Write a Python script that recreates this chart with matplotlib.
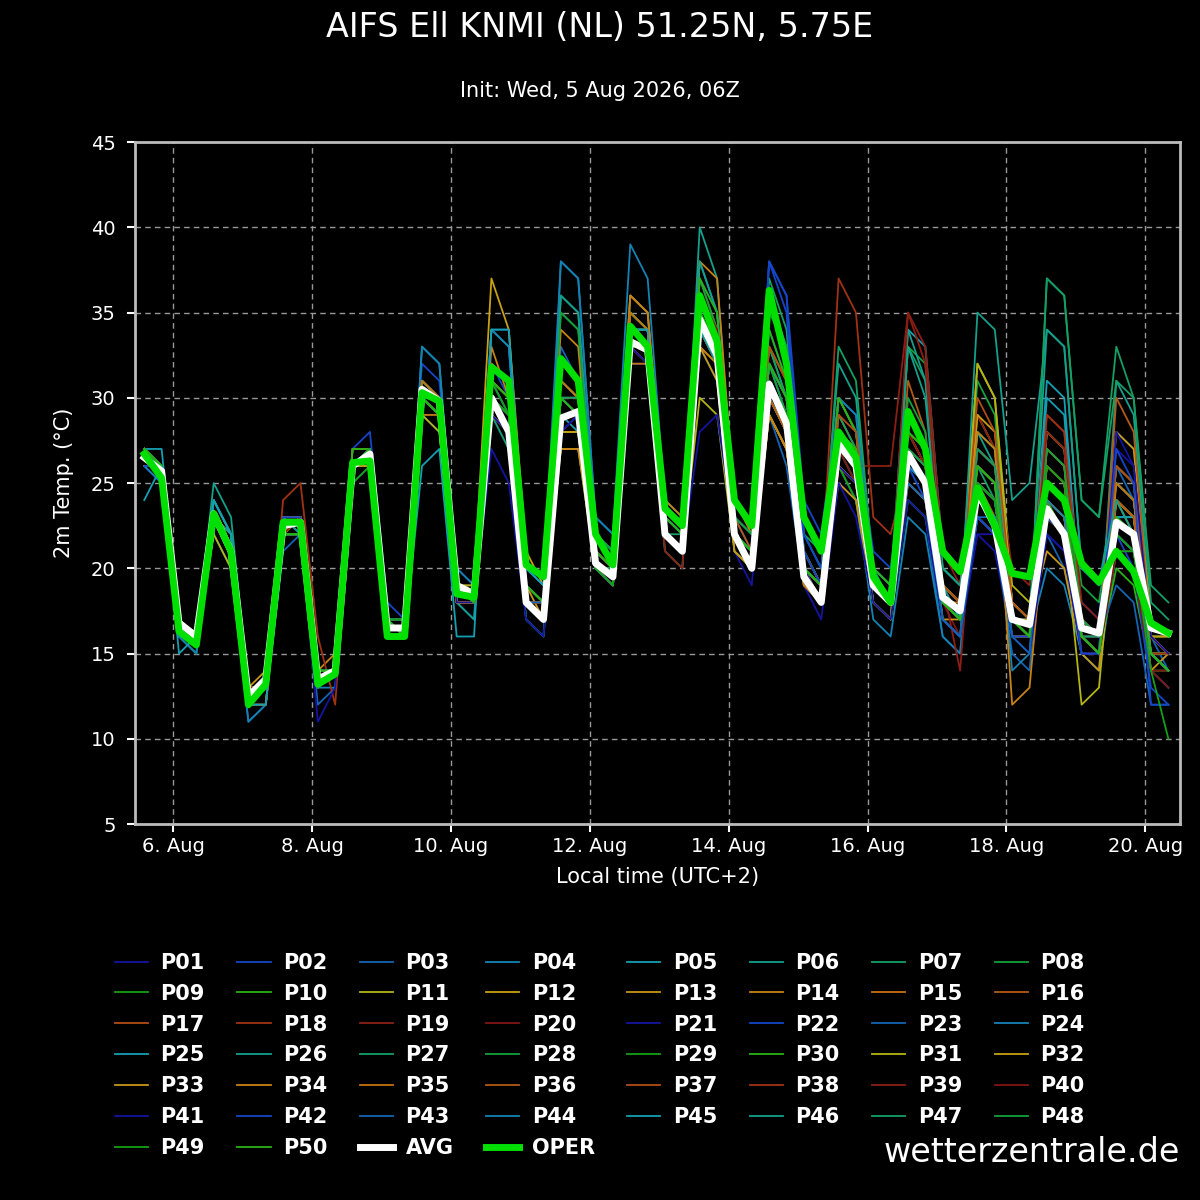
import numpy as np
import matplotlib
matplotlib.use("Agg")
import matplotlib.pyplot as plt
from matplotlib.lines import Line2D

# 6-hourly steps starting 5 Aug 14:00 local, days as fractional day-of-month
times = 5 + 14 / 24 + np.arange(60) * 0.25

avg = [26.5, 25.7, 16.8, 16.0, 23.2, 21.0, 12.5, 13.5, 22.5, 22.7, 13.5, 14.0,
       26.0, 26.7, 16.5, 16.5, 30.5, 29.8, 19.0, 18.5, 30.0, 28.0, 18.0, 17.0,
       28.8, 29.2, 20.3, 19.5, 33.3, 32.8, 22.0, 21.0, 34.6, 32.5, 22.0, 20.0,
       30.8, 28.5, 19.5, 18.0, 27.3, 26.0, 19.0, 18.0, 26.7, 25.0, 18.3, 17.5,
       24.5, 22.5, 17.0, 16.7, 23.5, 22.0, 16.5, 16.2, 22.7, 22.0, 16.5, 16.2]

oper = [26.7, 25.3, 16.3, 15.5, 23.2, 21.0, 12.0, 13.2, 22.7, 22.7, 13.2, 13.8,
        26.2, 26.3, 16.0, 16.0, 30.3, 29.8, 18.5, 18.3, 31.8, 31.0, 20.2, 19.5,
        32.3, 31.0, 22.0, 20.2, 34.2, 33.0, 23.5, 22.5, 36.0, 33.3, 24.0, 22.5,
        36.3, 32.0, 23.0, 21.0, 28.0, 26.5, 19.5, 18.0, 29.2, 27.0, 21.0, 19.8,
        24.7, 22.5, 19.7, 19.5, 25.0, 24.0, 20.3, 19.2, 21.0, 19.8, 16.8, 16.2]

members_txt = """
27 26 17 16 23 21 12 13 23 23 14 14 26 27 17 17 31 30 19 18 29 27 17 16 28 29 21 20 34 33 23 22 36 33 21 19 32 29 21 19 25 24 18 17 26 25 19 17 22 21 16 16 24 23 16 15 21 21 15 15
26 25 16 15 24 22 12 12 22 22 13 14 27 28 18 17 32 31 20 19 32 30 19 18 30 30 20 19 32 32 21 20 37 35 23 21 38 36 24 22 30 28 21 20 28 26 19 18 26 25 18 17 25 24 18 17 28 27 17 16
27 26 17 16 23 21 11 12 21 22 12 13 25 26 16 16 29 28 18 17 34 34 20 19 33 31 22 21 35 34 23 22 33 31 22 20 29 26 19 18 30 29 20 19 24 23 16 15 27 26 18 17 22 20 15 14 26 24 16 14
26 26 17 16 22 20 11 12 22 22 13 13 27 27 17 16 30 29 18 18 30 28 17 16 38 37 23 22 39 37 24 23 35 33 22 21 34 31 20 18 26 24 17 16 23 22 16 15 25 24 17 16 20 19 15 14 21 20 15 14
27 27 17 16 24 22 13 13 23 23 14 14 26 27 16 16 33 32 19 18 34 33 20 19 29 28 20 20 33 33 22 21 38 35 22 21 33 30 21 19 27 26 18 17 34 33 21 20 25 24 17 17 31 30 17 16 23 23 16 15
26 26 17 16 25 23 13 13 22 22 14 14 26 26 17 16 31 30 18 17 31 29 18 17 36 35 22 21 36 35 22 21 40 37 23 22 36 33 22 20 32 30 20 19 27 25 17 16 28 26 18 17 23 22 16 15 31 29 17 16
27 26 16 16 23 21 12 12 23 22 13 14 26 26 16 16 30 29 19 18 29 27 17 16 28 28 20 19 34 34 22 22 35 33 21 20 37 34 22 21 27 25 19 18 33 31 20 19 26 24 16 16 37 36 24 23 33 30 19 18
27 26 17 16 23 21 13 13 22 23 14 14 26 27 17 17 31 30 19 19 30 29 18 17 35 34 22 21 33 32 21 20 36 33 22 21 31 28 19 18 28 27 19 18 33 32 20 19 26 25 17 16 28 27 19 18 25 24 16 15
27 25 16 15 23 21 12 13 22 22 13 14 25 26 16 16 29 29 19 18 31 30 19 18 27 27 20 19 34 33 22 21 36 34 22 21 32 30 21 19 26 24 18 17 24 23 18 17 23 22 17 16 24 23 16 15 22 21 15 15
26 26 17 16 23 21 12 13 23 23 14 14 26 26 17 16 30 30 19 18 31 30 19 18 30 30 21 20 35 34 23 22 36 33 22 20 30 28 20 18 28 26 19 18 26 25 18 17 23 22 17 16 24 22 16 15 20 19 14 14
27 26 17 16 22 20 12 12 22 23 14 14 27 27 17 17 29 28 18 18 30 28 18 17 28 29 21 20 34 34 22 21 30 29 21 20 29 27 20 18 26 25 19 18 27 25 19 18 32 30 19 18 23 22 12 13 24 22 15 14
26 26 17 16 23 21 13 13 23 23 14 14 26 26 17 17 31 30 19 19 37 34 21 19 27 27 20 20 34 33 23 22 34 32 22 21 29 27 20 19 27 26 19 18 26 25 19 18 29 27 18 17 26 25 17 16 28 27 17 16
27 26 17 16 23 22 13 14 22 22 14 14 26 27 17 16 30 29 18 18 32 31 19 17 31 30 20 20 35 34 22 21 34 32 22 21 30 28 19 18 25 24 18 17 28 26 18 17 25 23 17 17 21 20 15 14 25 24 16 16
27 26 16 16 23 21 12 13 22 23 14 15 26 27 17 17 30 29 19 18 33 30 19 18 34 33 21 20 36 35 23 22 38 37 24 22 33 31 21 19 30 28 19 18 25 24 17 16 24 23 17 16 27 26 16 15 24 23 16 15
26 26 17 16 23 21 12 13 23 23 14 14 26 26 17 16 29 29 19 18 30 28 18 17 31 30 21 20 32 32 22 21 35 33 22 21 31 29 20 19 29 27 19 18 27 25 18 18 26 25 17 16 23 22 16 16 26 25 17 16
27 26 17 16 23 22 13 13 22 23 14 14 27 27 17 17 31 30 19 18 31 30 19 18 30 30 21 20 33 33 22 21 37 34 23 21 32 30 20 19 26 25 18 17 31 28 18 17 23 22 16 16 25 24 16 15 30 28 16 15
27 26 17 16 23 21 12 12 22 22 13 14 26 27 17 16 30 29 19 18 30 29 18 17 29 29 20 20 34 33 22 21 35 33 22 20 31 29 20 18 28 27 19 18 27 26 18 17 25 23 17 16 24 23 15 15 22 21 15 14
27 26 17 16 24 22 12 13 24 25 16 12 26 27 17 17 30 29 19 18 30 29 18 18 29 29 20 19 33 32 23 22 35 33 22 21 31 29 21 19 37 35 23 22 26 25 18 17 23 22 17 16 24 23 16 15 26 25 16 15
27 26 17 16 23 21 13 13 22 22 13 14 26 27 17 17 30 30 19 18 30 28 18 17 30 29 20 19 34 33 21 20 36 34 22 21 32 30 20 19 27 26 26 26 35 33 21 19 29 27 20 19 29 28 18 17 21 21 15 15
27 26 17 16 23 21 12 13 22 22 14 14 26 26 17 17 31 30 19 18 29 28 18 18 31 30 21 20 34 34 22 21 36 34 22 21 32 30 20 18 27 25 19 18 27 25 18 16 24 23 17 16 23 22 16 16 21 20 14 14
27 26 17 16 23 21 12 13 23 22 14 14 26 27 17 16 30 29 19 18 27 25 17 16 28 29 20 19 33 33 22 21 28 29 22 20 30 28 19 17 25 23 18 17 25 24 17 16 23 22 16 16 22 21 15 15 27 26 15 14
26 26 17 16 23 21 12 13 22 22 14 14 26 27 17 17 31 30 19 18 29 28 18 17 29 29 20 20 34 33 22 21 35 33 22 21 38 36 22 20 28 27 19 18 26 24 18 17 24 23 17 16 26 25 17 16 22 20 13 12
27 26 17 16 23 21 12 13 22 22 14 14 26 27 17 16 30 30 19 18 31 29 18 17 30 29 21 20 33 33 22 21 34 33 22 20 32 30 21 19 28 27 19 18 26 25 17 16 23 22 15 14 25 24 16 16 19 18 12 12
26 25 16 15 24 22 12 13 23 23 14 14 26 26 17 16 33 32 20 19 34 33 20 19 38 37 23 22 35 34 23 22 36 34 22 21 31 29 20 19 30 29 20 19 27 25 17 16 26 25 14 15 28 27 16 15 24 23 14 13
24 26 15 16 24 22 12 12 22 22 14 14 26 26 16 16 26 27 16 16 34 34 20 19 31 30 22 21 34 34 23 22 35 33 22 21 30 28 20 19 27 26 18 17 27 25 18 17 25 24 17 16 30 29 16 15 23 23 15 15
27 26 17 16 23 22 12 13 23 22 14 14 26 27 17 17 31 30 19 18 30 29 18 17 36 35 22 21 35 34 23 22 38 35 23 22 32 30 21 19 28 27 20 19 34 31 20 19 28 27 18 17 34 33 20 19 25 24 17 16
27 26 17 16 24 22 13 13 22 22 14 14 26 26 17 16 30 29 19 18 31 30 19 18 30 30 20 20 34 34 22 21 35 33 22 21 33 30 20 19 29 27 19 18 29 27 18 17 27 26 17 16 27 26 16 16 24 23 15 15
27 26 17 16 23 21 12 13 22 22 13 14 26 27 17 17 30 29 19 18 32 31 19 18 35 34 22 21 35 34 22 21 37 34 23 22 35 33 21 19 30 28 19 18 30 28 19 18 31 29 18 17 26 25 16 15 26 25 16 16
26 26 17 16 23 21 12 13 22 22 14 14 26 27 17 16 30 30 19 18 31 29 19 18 29 29 20 19 34 33 22 21 36 34 22 21 33 31 21 19 28 27 19 18 28 27 18 17 25 24 17 16 24 23 16 15 21 21 15 15
27 26 17 16 23 21 13 13 22 23 14 14 27 27 17 17 31 30 19 18 31 30 19 18 31 30 21 20 35 34 23 22 37 35 22 21 34 31 21 19 30 28 20 19 29 27 19 18 26 25 17 16 25 24 17 16 24 23 16 15
27 26 17 16 23 21 12 13 22 23 14 14 26 27 17 17 30 29 18 18 29 28 18 17 28 28 20 19 33 33 22 21 34 32 22 20 29 27 20 19 27 26 19 18 27 26 18 17 32 30 18 17 26 25 17 16 23 22 16 15
27 26 17 16 23 21 13 13 23 23 14 14 26 26 17 17 30 29 19 18 30 29 19 18 28 28 20 20 34 33 22 21 33 32 22 21 30 28 20 18 26 25 18 17 26 25 18 17 29 28 18 17 28 27 17 16 24 23 16 16
27 26 17 16 23 21 12 13 22 22 14 14 26 27 17 16 30 29 18 18 30 28 18 18 29 29 20 19 33 32 22 21 33 31 21 20 29 27 19 18 26 25 18 17 25 24 17 17 24 23 16 16 23 22 16 15 23 22 14 15
26 26 17 16 23 21 12 13 22 22 14 14 26 27 17 17 30 29 18 18 29 28 18 17 27 27 21 20 36 35 24 23 33 32 22 21 29 27 19 18 27 26 19 18 27 26 18 17 28 27 12 13 24 23 16 15 24 23 15 14
27 26 17 16 23 21 12 13 23 23 14 14 26 27 17 17 31 30 19 18 32 31 19 18 31 30 21 20 35 34 22 21 35 33 22 21 31 29 20 18 28 26 19 18 29 27 19 18 27 26 17 16 27 26 17 16 25 24 15 15
27 26 17 16 23 21 13 13 22 22 14 14 26 27 17 16 30 29 18 18 30 29 18 17 29 29 20 19 33 33 22 21 34 32 22 21 30 28 20 19 28 27 19 18 28 26 18 17 25 24 17 16 24 23 16 15 24 23 16 15
27 26 17 16 23 21 12 13 22 22 14 14 26 27 17 17 30 30 19 18 31 30 19 18 30 30 21 20 34 33 22 21 36 34 22 21 33 31 20 19 29 28 19 18 28 27 19 18 30 28 18 17 26 25 17 16 26 25 16 15
27 26 17 16 23 21 12 13 22 22 14 14 26 27 17 16 30 29 19 18 30 29 18 17 29 29 20 20 33 33 22 21 35 33 22 21 32 30 20 19 28 27 19 18 27 26 18 17 26 25 17 16 29 28 17 16 22 21 15 15
27 26 17 16 23 21 13 13 22 23 14 14 26 27 17 17 30 30 19 18 30 29 18 17 30 29 21 20 33 32 22 21 35 33 22 21 31 29 20 19 28 26 19 18 35 32 19 14 27 26 17 16 28 27 16 15 21 20 15 14
27 26 17 16 23 21 12 13 22 22 14 14 26 27 17 17 30 29 19 18 30 29 18 17 29 29 20 20 34 33 22 21 36 34 22 21 32 30 21 19 28 27 19 18 28 26 18 17 25 24 17 16 25 24 16 15 21 20 14 13
27 26 17 16 23 21 12 13 22 22 11 13 26 27 17 16 30 29 18 18 29 28 18 17 28 29 20 19 33 32 22 21 34 32 22 20 31 29 20 18 26 25 18 17 24 23 17 16 22 22 16 15 22 21 15 15 28 26 16 15
26 26 17 16 23 21 12 13 23 23 14 14 26 27 17 17 30 30 19 18 30 29 18 17 29 29 20 19 34 33 22 21 35 33 22 21 38 35 21 19 28 27 19 18 26 25 18 17 23 22 16 16 23 22 15 15 27 25 12 12
27 26 17 16 23 21 12 13 22 22 14 14 26 27 17 16 30 29 19 18 30 29 18 18 30 29 20 20 33 33 22 21 34 32 22 21 32 30 20 19 27 26 19 18 25 24 17 16 23 23 16 15 25 24 16 15 22 21 15 14
27 26 17 16 23 21 12 13 22 22 13 14 26 27 17 17 30 29 19 18 30 28 18 17 29 29 20 20 34 33 22 21 35 33 22 21 32 30 20 19 27 26 19 18 26 25 18 17 24 23 17 16 24 23 17 16 22 21 15 14
27 26 17 16 24 22 12 13 22 22 14 14 26 27 17 16 30 30 19 18 30 29 19 18 30 29 21 20 34 34 22 21 35 33 22 21 32 29 20 19 27 26 19 18 27 26 18 17 25 24 17 16 25 24 16 15 23 22 15 14
27 26 17 16 23 21 12 13 22 22 14 14 26 27 17 16 30 29 19 18 30 29 18 17 29 29 20 19 33 33 22 21 34 32 22 21 31 29 20 19 28 27 19 18 33 30 19 17 35 34 24 25 34 33 20 19 24 22 15 14
27 26 17 16 23 21 12 13 22 22 14 14 26 27 17 17 30 29 19 18 30 29 19 18 30 30 20 20 34 33 22 21 35 33 22 21 32 30 20 19 33 31 20 18 29 27 18 17 27 26 17 16 37 36 24 23 31 30 18 17
27 26 17 16 23 21 12 13 22 22 14 14 26 27 17 16 30 29 19 18 30 29 18 17 30 29 20 20 33 33 22 21 35 33 22 21 32 29 20 19 28 27 19 18 27 26 18 17 26 25 17 16 27 26 17 16 23 22 15 14
27 26 17 16 23 21 12 13 22 22 14 14 26 27 17 17 30 29 19 18 30 29 18 17 29 29 20 19 34 33 22 21 35 33 22 21 31 29 20 19 28 27 19 18 28 27 18 17 25 24 17 16 26 25 16 15 22 21 14 10
27 26 17 16 23 21 12 13 22 22 14 14 26 27 17 16 30 29 19 18 31 30 19 18 30 29 21 20 34 33 22 21 35 33 22 21 32 30 20 19 28 27 19 18 28 27 18 17 26 25 17 16 25 24 16 15 23 22 15 14
"""
members = [[float(v) for v in row.split()] for row in members_txt.strip().splitlines()]
member_names = ["P%02d" % (i + 1) for i in range(len(members))]

palette = ["#1414a0", "#1446c8", "#1464b4", "#1482b4", "#14a0b4", "#14a08c",
           "#14a064", "#14a03c", "#14a014", "#28b414", "#b4b414", "#c8a014",
           "#c89614", "#c88214", "#c87014", "#b45a14", "#b44c14", "#a03214",
           "#8c1e14", "#821414"]

tick_days = [6, 8, 10, 12, 14, 16, 18, 20]
tick_labels = ["%d. Aug" % d for d in tick_days]

fig = plt.figure(figsize=(12, 12), dpi=100, facecolor="black")
ax = fig.add_axes([0.1125, 0.3133, 0.8708, 0.5683])
ax.set_facecolor("black")

for i, vals in enumerate(members):
    ax.plot(times, vals, color=palette[i % 20], lw=1.3)
ax.plot(times, avg, color="white", lw=5)
ax.plot(times, oper, color="#00e000", lw=5)

ax.set_xlim(5.45, 20.5)
ax.set_ylim(5, 45)
ax.set_yticks(range(5, 46, 5))
ax.set_xticks(tick_days)
ax.set_xticklabels(tick_labels)
ax.grid(True, color="#999999", ls=(0, (4, 3)), lw=1)
for s in ax.spines.values():
    s.set_color("#bbbbbb")
    s.set_linewidth(2)
ax.tick_params(colors="white", labelsize=14, length=6, width=1.5)
ax.tick_params(axis="y", pad=8)
ax.set_ylabel("2m Temp. (°C)", color="white", fontsize=15, labelpad=12)
ax.set_xlabel("Local time (UTC+2)", color="white", fontsize=15, labelpad=8)

fig.text(0.5, 0.977, "AIFS Ell KNMI (NL) 51.25N, 5.75E", color="white",
         fontsize=24, ha="center", va="center")
fig.text(0.5, 0.924, "Init: Wed, 5 Aug 2026, 06Z", color="white",
         fontsize=15, ha="center", va="center")
fig.text(0.983, 0.04, "wetterzentrale.de", color="white", fontsize=24,
         ha="right", va="center")

handles = [Line2D([], [], color=palette[i % 20], lw=1.3) for i in range(len(members))]
handles += [Line2D([], [], color="white", lw=5), Line2D([], [], color="#00e000", lw=5)]
labels = member_names + ["AVG", "OPER"]

# legend fills column by column; reorder so entries read row by row
ncol = 8
nrow = -(-len(labels) // ncol)
order = [r * ncol + c for c in range(ncol) for r in range(nrow) if r * ncol + c < len(labels)]
leg = fig.legend([handles[k] for k in order], [labels[k] for k in order],
                 ncol=ncol, loc="upper left",
                 bbox_to_anchor=(0.08, 0.2215), frameon=False,
                 prop={"size": 15, "weight": "bold"}, labelcolor="white",
                 handlelength=1.6, columnspacing=1.55, labelspacing=0.52,
                 handletextpad=0.6)

fig.savefig("out.png", dpi=100, facecolor="black")
